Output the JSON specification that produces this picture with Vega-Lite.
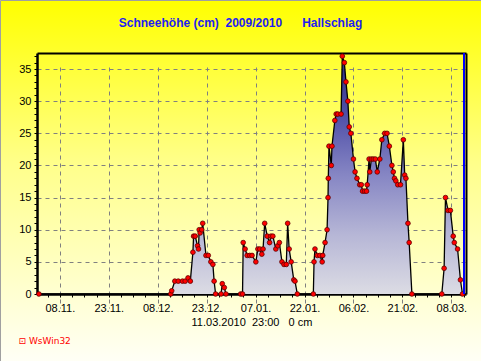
{
  "$schema": "https://vega.github.io/schema/vega-lite/v6.json",
  "width": 481,
  "height": 361,
  "autosize": "none",
  "padding": 0,
  "background": "#ffff90",
  "title": {
    "text": "Schneehöhe (cm)\u00a0\u00a02009/2010\u00a0\u00a0\u00a0\u00a0\u00a0\u00a0Hallschlag",
    "anchor": "middle",
    "frame": "group",
    "offset": -42,
    "baseline": "bottom",
    "font": "Liberation Sans",
    "fontSize": 12,
    "fontWeight": "bold",
    "color": "#1e1ef0"
  },
  "data": {
    "values": [
      {"t": "2009-11-01T14:00", "cm": 0},
      {"t": "2009-12-12T00:00", "cm": 0},
      {"t": "2009-12-12T07:00", "cm": 0.5},
      {"t": "2009-12-13T06:00", "cm": 2},
      {"t": "2009-12-14T07:00", "cm": 2},
      {"t": "2009-12-15T14:00", "cm": 2},
      {"t": "2009-12-16T10:00", "cm": 2},
      {"t": "2009-12-17T07:00", "cm": 2.5},
      {"t": "2009-12-18T00:00", "cm": 2},
      {"t": "2009-12-18T19:00", "cm": 6.5},
      {"t": "2009-12-19T00:00", "cm": 9},
      {"t": "2009-12-19T12:00", "cm": 9},
      {"t": "2009-12-20T05:00", "cm": 7.5},
      {"t": "2009-12-20T12:00", "cm": 7},
      {"t": "2009-12-20T17:00", "cm": 10},
      {"t": "2009-12-21T00:00", "cm": 9.5},
      {"t": "2009-12-21T12:00", "cm": 10},
      {"t": "2009-12-21T19:00", "cm": 11},
      {"t": "2009-12-22T19:00", "cm": 6},
      {"t": "2009-12-23T12:00", "cm": 6},
      {"t": "2009-12-24T07:00", "cm": 5},
      {"t": "2009-12-24T22:00", "cm": 4.6},
      {"t": "2009-12-25T07:00", "cm": 2},
      {"t": "2009-12-25T18:00", "cm": 0},
      {"t": "2009-12-27T10:00", "cm": 0},
      {"t": "2009-12-27T19:00", "cm": 1.6},
      {"t": "2009-12-28T10:00", "cm": 1},
      {"t": "2009-12-28T22:00", "cm": 0},
      {"t": "2010-01-02T10:00", "cm": 0},
      {"t": "2010-01-03T00:00", "cm": 0},
      {"t": "2010-01-03T05:00", "cm": 8},
      {"t": "2010-01-03T19:00", "cm": 7},
      {"t": "2010-01-04T10:00", "cm": 6},
      {"t": "2010-01-05T05:00", "cm": 6},
      {"t": "2010-01-05T22:00", "cm": 6},
      {"t": "2010-01-07T02:00", "cm": 5},
      {"t": "2010-01-07T17:00", "cm": 7},
      {"t": "2010-01-08T07:00", "cm": 7},
      {"t": "2010-01-08T22:00", "cm": 6.2},
      {"t": "2010-01-09T07:00", "cm": 7},
      {"t": "2010-01-09T19:00", "cm": 11},
      {"t": "2010-01-10T14:00", "cm": 9},
      {"t": "2010-01-11T07:00", "cm": 8},
      {"t": "2010-01-11T17:00", "cm": 9},
      {"t": "2010-01-12T07:00", "cm": 9},
      {"t": "2010-01-13T05:00", "cm": 7},
      {"t": "2010-01-13T19:00", "cm": 7.5},
      {"t": "2010-01-14T07:00", "cm": 8},
      {"t": "2010-01-15T02:00", "cm": 5},
      {"t": "2010-01-15T17:00", "cm": 4.6},
      {"t": "2010-01-16T10:00", "cm": 4.6},
      {"t": "2010-01-16T20:00", "cm": 11},
      {"t": "2010-01-17T07:00", "cm": 7},
      {"t": "2010-01-17T22:00", "cm": 5},
      {"t": "2010-01-18T17:00", "cm": 2.2},
      {"t": "2010-01-19T02:00", "cm": 2},
      {"t": "2010-01-19T19:00", "cm": 0},
      {"t": "2010-01-24T17:00", "cm": 0},
      {"t": "2010-01-24T22:00", "cm": 5},
      {"t": "2010-01-25T05:00", "cm": 7},
      {"t": "2010-01-25T22:00", "cm": 6},
      {"t": "2010-01-26T17:00", "cm": 6},
      {"t": "2010-01-27T10:00", "cm": 5},
      {"t": "2010-01-27T14:00", "cm": 6},
      {"t": "2010-01-28T07:00", "cm": 8},
      {"t": "2010-01-28T22:00", "cm": 10},
      {"t": "2010-01-29T05:00", "cm": 15},
      {"t": "2010-01-29T07:00", "cm": 18},
      {"t": "2010-01-29T12:00", "cm": 23},
      {"t": "2010-01-30T05:00", "cm": 20},
      {"t": "2010-01-30T10:00", "cm": 23},
      {"t": "2010-01-31T07:00", "cm": 27},
      {"t": "2010-01-31T17:00", "cm": 28},
      {"t": "2010-02-01T05:00", "cm": 28},
      {"t": "2010-02-02T05:00", "cm": 28},
      {"t": "2010-02-02T14:00", "cm": 37},
      {"t": "2010-02-03T05:00", "cm": 36},
      {"t": "2010-02-03T17:00", "cm": 33},
      {"t": "2010-02-04T07:00", "cm": 30},
      {"t": "2010-02-04T17:00", "cm": 26},
      {"t": "2010-02-05T05:00", "cm": 25},
      {"t": "2010-02-06T00:00", "cm": 21},
      {"t": "2010-02-06T12:00", "cm": 19},
      {"t": "2010-02-07T02:00", "cm": 18},
      {"t": "2010-02-07T22:00", "cm": 17},
      {"t": "2010-02-08T10:00", "cm": 17},
      {"t": "2010-02-08T19:00", "cm": 16},
      {"t": "2010-02-09T10:00", "cm": 16},
      {"t": "2010-02-10T00:00", "cm": 16},
      {"t": "2010-02-10T05:00", "cm": 17},
      {"t": "2010-02-10T19:00", "cm": 21},
      {"t": "2010-02-11T00:00", "cm": 19},
      {"t": "2010-02-11T12:00", "cm": 21},
      {"t": "2010-02-12T02:00", "cm": 21},
      {"t": "2010-02-12T17:00", "cm": 21},
      {"t": "2010-02-13T07:00", "cm": 19},
      {"t": "2010-02-14T02:00", "cm": 21},
      {"t": "2010-02-14T17:00", "cm": 24},
      {"t": "2010-02-15T14:00", "cm": 25},
      {"t": "2010-02-16T07:00", "cm": 25},
      {"t": "2010-02-17T00:00", "cm": 23},
      {"t": "2010-02-17T19:00", "cm": 20},
      {"t": "2010-02-18T05:00", "cm": 19},
      {"t": "2010-02-18T14:00", "cm": 18},
      {"t": "2010-02-19T00:00", "cm": 17.6},
      {"t": "2010-02-19T14:00", "cm": 17},
      {"t": "2010-02-20T10:00", "cm": 17},
      {"t": "2010-02-21T07:00", "cm": 24},
      {"t": "2010-02-21T17:00", "cm": 18.5},
      {"t": "2010-02-22T02:00", "cm": 18},
      {"t": "2010-02-22T17:00", "cm": 11},
      {"t": "2010-02-23T02:00", "cm": 8},
      {"t": "2010-02-23T22:00", "cm": 0},
      {"t": "2010-03-05T02:00", "cm": 0},
      {"t": "2010-03-05T19:00", "cm": 4},
      {"t": "2010-03-06T05:00", "cm": 15},
      {"t": "2010-03-07T00:00", "cm": 13},
      {"t": "2010-03-07T17:00", "cm": 13},
      {"t": "2010-03-08T14:00", "cm": 9},
      {"t": "2010-03-08T22:00", "cm": 8},
      {"t": "2010-03-09T22:00", "cm": 7},
      {"t": "2010-03-10T19:00", "cm": 2.2},
      {"t": "2010-03-11T10:00", "cm": 0}
    ]
  },
  "resolve": {"axis": {"x": "independent", "y": "independent"}},
  "layer": [
    {
      "mark": {
        "type": "area",
        "interpolate": "linear",
        "color": {
          "gradient": "linear",
          "x1": 0, "y1": 0, "x2": 0, "y2": 1,
          "stops": [
            {"offset": 0, "color": "#303080"},
            {"offset": 0.25, "color": "#5050a8"},
            {"offset": 0.5, "color": "#8686c4"},
            {"offset": 0.75, "color": "#b6b6d6"},
            {"offset": 1, "color": "#dcdce4"}
          ]
        }
      },
      "encoding": {
        "x": {
          "field": "t",
          "type": "temporal",
          "scale": {
            "domain": [
              {"year": 2009, "month": 11, "date": 1},
              {"year": 2010, "month": 3, "date": 12, "hours": 12}
            ],
            "range": [37, 466],
            "nice": false
          },
          "axis": {
            "orient": "bottom",
            "offset": -67,
            "values": [
              {"year": 2009, "month": 11, "date": 4, "hours": 6},
              {"year": 2009, "month": 11, "date": 8},
              {"year": 2009, "month": 11, "date": 11, "hours": 18},
              {"year": 2009, "month": 11, "date": 15, "hours": 12},
              {"year": 2009, "month": 11, "date": 19, "hours": 6},
              {"year": 2009, "month": 11, "date": 23},
              {"year": 2009, "month": 11, "date": 26, "hours": 18},
              {"year": 2009, "month": 11, "date": 30, "hours": 12},
              {"year": 2009, "month": 12, "date": 4, "hours": 6},
              {"year": 2009, "month": 12, "date": 8},
              {"year": 2009, "month": 12, "date": 11, "hours": 18},
              {"year": 2009, "month": 12, "date": 15, "hours": 12},
              {"year": 2009, "month": 12, "date": 19, "hours": 6},
              {"year": 2009, "month": 12, "date": 23},
              {"year": 2009, "month": 12, "date": 26, "hours": 18},
              {"year": 2009, "month": 12, "date": 30, "hours": 12},
              {"year": 2010, "month": 1, "date": 3, "hours": 6},
              {"year": 2010, "month": 1, "date": 7},
              {"year": 2010, "month": 1, "date": 10, "hours": 18},
              {"year": 2010, "month": 1, "date": 14, "hours": 12},
              {"year": 2010, "month": 1, "date": 18, "hours": 6},
              {"year": 2010, "month": 1, "date": 22},
              {"year": 2010, "month": 1, "date": 25, "hours": 18},
              {"year": 2010, "month": 1, "date": 29, "hours": 12},
              {"year": 2010, "month": 2, "date": 2, "hours": 6},
              {"year": 2010, "month": 2, "date": 6},
              {"year": 2010, "month": 2, "date": 9, "hours": 18},
              {"year": 2010, "month": 2, "date": 13, "hours": 12},
              {"year": 2010, "month": 2, "date": 17, "hours": 6},
              {"year": 2010, "month": 2, "date": 21},
              {"year": 2010, "month": 2, "date": 24, "hours": 18},
              {"year": 2010, "month": 2, "date": 28, "hours": 12},
              {"year": 2010, "month": 3, "date": 4, "hours": 6},
              {"year": 2010, "month": 3, "date": 8},
              {"year": 2010, "month": 3, "date": 11, "hours": 18}
            ],
            "labelExpr": "hours(datum.value) === 0 ? timeFormat(datum.value, '%d.%m.') : ''",
            "labelOverlap": false,
            "labelFlush": false,
            "labelFont": "Liberation Sans",
            "labelFontSize": 11,
            "labelColor": "black",
            "labelPadding": 5,
            "domainColor": "black",
            "domainWidth": 2.5,
            "tickColor": "black",
            "tickSize": 3,
            "tickWidth": 1,
            "grid": true,
            "gridColor": "#808080",
            "gridDash": [4, 4],
            "gridOpacity": {"condition": {"test": "hours(datum.value) === 0", "value": 1}, "value": 0},
            "title": "11.03.2010\u00a0\u00a023:00\u00a0\u00a0\u00a00 cm",
            "titleFont": "Liberation Sans",
            "titleFontSize": 11,
            "titleFontWeight": "normal",
            "titleColor": "black",
            "titlePadding": 3
          }
        },
        "y": {
          "field": "cm",
          "type": "quantitative",
          "scale": {"domain": [0, 37.5], "range": [294, 53], "nice": false, "zero": true},
          "axis": {
            "orient": "left",
            "offset": -37,
            "values": [0,1,2,3,4,5,6,7,8,9,10,11,12,13,14,15,16,17,18,19,20,21,22,23,24,25,26,27,28,29,30,31,32,33,34,35,36,37],
            "labelExpr": "datum.value % 5 === 0 ? datum.label : ''",
            "labelFont": "Liberation Sans",
            "labelFontSize": 11,
            "labelColor": "black",
            "labelPadding": 3,
            "labelOverlap": false,
            "labelFlush": false,
            "domainColor": "black",
            "domainWidth": 2.5,
            "tickColor": "black",
            "tickSize": 3,
            "grid": true,
            "gridColor": "#808080",
            "gridDash": [4, 4],
            "gridOpacity": {"condition": {"test": "datum.value % 5 === 0 && datum.value > 0", "value": 1}, "value": 0},
            "title": "⊡ WsWin32",
            "titleAngle": 0,
            "titleX": -19,
            "titleY": 340,
            "titleAlign": "left",
            "titleBaseline": "middle",
            "titleFont": "DejaVu Sans",
            "titleFontSize": 9,
            "titleFontWeight": "normal",
            "titleColor": "#ff0000"
          }
        }
      }
    },
    {
      "mark": {"type": "line", "color": "black", "strokeWidth": 1.3, "interpolate": "linear"},
      "encoding": {
        "x": {"field": "t", "type": "temporal", "axis": null},
        "y": {"field": "cm", "type": "quantitative", "axis": null}
      }
    },
    {
      "mark": {"type": "point", "filled": true, "fill": "#ff0000", "stroke": "#600000", "strokeWidth": 0.8, "size": 22, "opacity": 1},
      "encoding": {
        "x": {"field": "t", "type": "temporal", "axis": null},
        "y": {"field": "cm", "type": "quantitative", "axis": null}
      }
    },
    {
      "mark": {"type": "rule", "color": "#0000ff", "strokeWidth": 1},
      "encoding": {
        "x": {
          "datum": {"year": 2010, "month": 3, "date": 11, "hours": 23},
          "type": "temporal",
          "axis": {"orient": "top", "offset": -53, "labels": false, "ticks": false, "grid": false, "title": null, "domainColor": "black", "domainWidth": 2}
        },
        "y": {
          "datum": 0,
          "type": "quantitative",
          "axis": {"orient": "right", "offset": -15, "labels": false, "ticks": false, "grid": false, "title": null, "domainColor": "black", "domainWidth": 2}
        },
        "y2": {"datum": 37.5}
      }
    }
  ],
  "config": {
    "font": "Liberation Sans",
    "view": {
      "stroke": "#a0a0a0",
      "fill": {
        "gradient": "linear",
        "x1": 0, "y1": 0, "x2": 0, "y2": 1,
        "stops": [
          {"offset": 0, "color": "#ffff00"},
          {"offset": 0.45, "color": "#ffff8a"},
          {"offset": 1, "color": "#fffff6"}
        ]
      }
    }
  }
}
